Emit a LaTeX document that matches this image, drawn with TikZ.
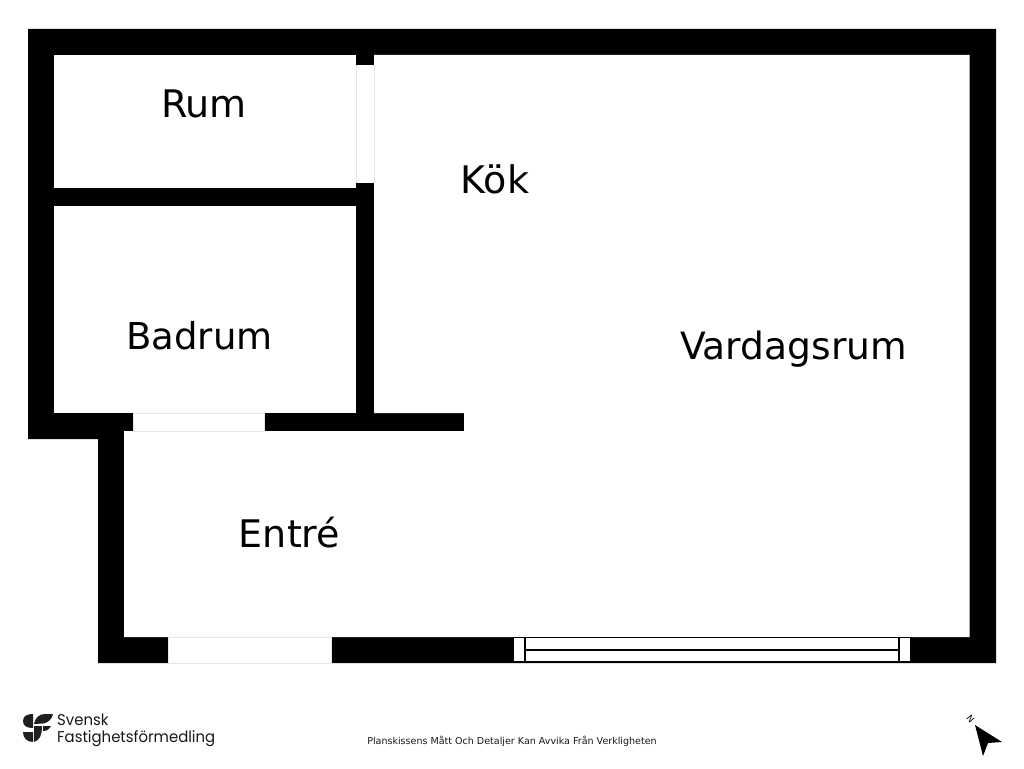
\documentclass[tikz,border=0pt]{standalone}
\usepackage{fontspec}
\setmainfont{DejaVu Sans}
\newfontfamily\logofont[FakeStretch=0.955]{Poppins}
\tikzset{
  x=1pt,y=-1pt,
  wall/.style={fill=black,draw=none},
  room/.style={fill=white,draw=none},
  opening/.style={fill=white,draw=black!10,line width=0.6pt},
  winline/.style={draw=black,line width=1.1pt},
  roomlabel/.style={font=\fontsize{38}{40}\selectfont,text=black,inner sep=0pt,anchor=base},
  logotext/.style={font=\logofont\fontsize{15.6}{18}\selectfont,text=black!90,inner sep=0pt,anchor=base west},
  notetext/.style={font=\fontsize{9.54}{12}\selectfont,text=black!90,inner sep=0pt},
  logopart/.style={fill=black!88,draw=none}
}
\begin{document}
\begin{tikzpicture}
\useasboundingbox (0,0) rectangle (1024,768);
\fill[white] (0,0) rectangle (1024,768);
% walls
\fill[wall] (28,29) -- (996,29) -- (996,663) -- (98,663) -- (98,439) -- (28,439) -- cycle;
% rooms
\fill[room] (54.3,55) rectangle (356,188);
\fill[room] (54.3,206) rectangle (356,413);
\fill[room] (356,65) rectangle (374,183);
\fill[room] (374,55) -- (969.7,55) -- (969.7,637) -- (124,637) -- (124,431) -- (464,431) -- (464,413) -- (374,413) -- cycle;
% openings
\filldraw[opening] (133,413) rectangle (264.6,431);
\filldraw[opening] (168,637) rectangle (331.6,663);
\draw[black!10,line width=0.6pt] (356,65) -- (356,183) (374,65) -- (374,183);
% window
\fill[white] (513.6,637) rectangle (911,663);
\draw[winline] (513.6,637.5) -- (911,637.5) (513.6,662) -- (911,662) (513.6,637) -- (513.6,663) (911,637) -- (911,663)
  (525,637) -- (525,663) (899,637) -- (899,663) (525,650) -- (899,650);
% labels
\node[roomlabel] (rum) at (204,117) {Rum};
\node[roomlabel] (kok) at (495,193.5) {Kök};
\node[roomlabel,font=\fontsize{37}{40}\selectfont] (badrum) at (199.5,349.5) {Badrum};
\node[roomlabel,font=\fontsize{37.6}{40}\selectfont] (vardagsrum) at (793.5,359.5) {Vardagsrum};
\node[roomlabel] (entre) at (289.5,547.5) {Entré};
\node[notetext] (note) at (512,741.5) {Planskissens Mått Och Detaljer Kan Avvika Från Verkligheten};
% logo
\fill[logopart] (33,714) .. controls (27,714) and (23,716) .. (23,721) .. controls (23,726) and (27,728) .. (33,728) -- cycle;
\fill[logopart] (23,732) -- (33,732) -- (33,742) .. controls (27,742) and (23,738) .. (23,732) -- cycle;
\fill[logopart] (34,724) .. controls (35,718) and (39,714) .. (45,714) -- (53,714) .. controls (52,719) and (48,723) .. (43,723.5) -- (34,724) -- cycle;
\fill[logopart] (34,726) -- (42,726) .. controls (42,735) and (40,740) .. (34,742) -- cycle;
\fill[logopart] (43,726) -- (51,726) .. controls (50,729) and (47,731) .. (43,731) -- cycle;
\node[logotext] (logoa) at (57,725.5) {Svensk};
\node[logotext] (logob) at (57,742.5) {Fastighetsförmedling};
% north arrow
\fill[black] (975,725) -- (1002,742) -- (988,743) -- (983,756) -- cycle;
\node[font=\fontsize{9}{10}\selectfont,rotate=-50,inner sep=0pt] (north) at (970.5,718.5) {N};
\end{tikzpicture}
\end{document}
